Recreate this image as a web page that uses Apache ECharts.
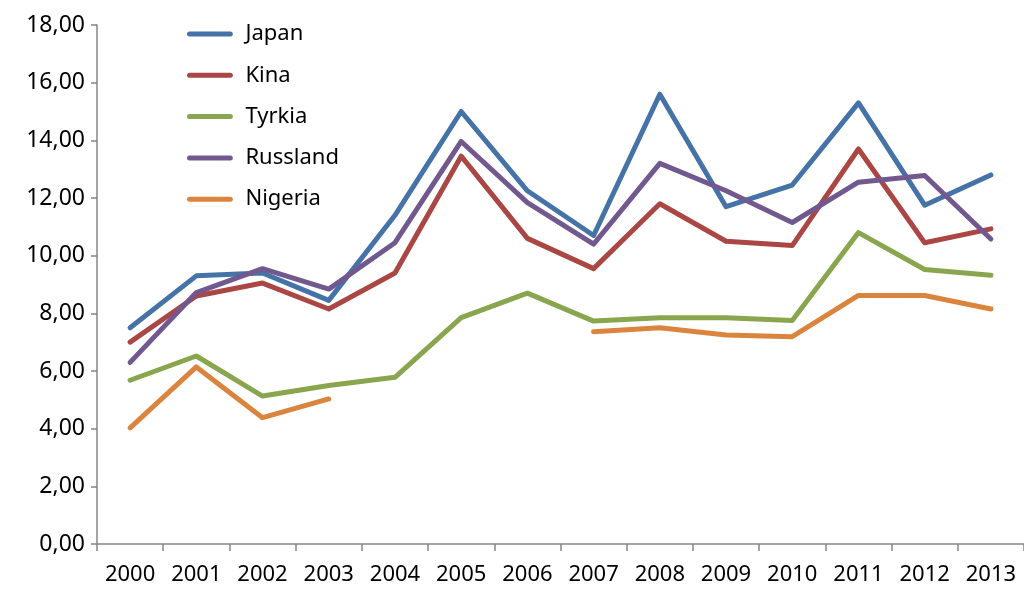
<!DOCTYPE html>
<html>
<head>
<meta charset="utf-8">
<script src="https://cdn.jsdelivr.net/npm/echarts@6/dist/echarts.min.js"></script>
<style>
html,body{margin:0;padding:0;background:#fff;}
#chart{width:1024px;height:589px;}
</style>
</head>
<body>
<div id="chart"></div>
<script>
const years = ['2000','2001','2002','2003','2004','2005','2006','2007','2008','2009','2010','2011','2012','2013'];
const japan    = [7.5, 9.3, 9.4, 8.45, 11.4, 15.0, 12.25, 10.7, 15.6, 11.7, 12.45, 15.3, 11.75, 12.8];
const kina     = [7.0, 8.6, 9.05, 8.15, 9.4, 13.45, 10.6, 9.55, 11.8, 10.5, 10.35, 13.7, 10.45, 10.93];
const tyrkia   = [5.68, 6.52, 5.13, 5.5, 5.78, 7.85, 8.7, 7.73, 7.85, 7.85, 7.75, 10.8, 9.52, 9.32];
const russland = [6.3, 8.72, 9.55, 8.84, 10.45, 13.96, 11.84, 10.4, 13.2, 12.25, 11.15, 12.55, 12.78, 10.58];
const nigeria  = [4.03, 6.14, 4.38, 5.03, null, null, null, 7.36, 7.5, 7.25, 7.19, 8.62, 8.62, 8.15];
const yTicks = {min: 0, max: 18, interval: 2};

const names = ['Japan','Kina','Tyrkia','Russland','Nigeria'];
const colors = ['#4572A7','#AA4643','#89A54E','#71588F','#DB843D'];
const datasets = [japan, kina, tyrkia, russland, nigeria];
const font = 'Noto Sans';
const legendIcon = 'path://M3,0 L52,0 A3,3 0 0 1 52,6 L3,6 A3,3 0 0 1 3,0 Z';

const chart = echarts.init(document.getElementById('chart'));
chart.setOption({
  animation: false,
  color: colors,
  grid: {left: 97, right: -4, top: 25, bottom: 45, containLabel: false},
  legend: {
    orient: 'vertical',
    left: 182, top: 18,
    itemWidth: 55, itemHeight: 5, itemGap: 19.3,
    textStyle: {fontFamily: font, fontSize: 22, color: '#000', padding: [0, 0, 0, 3]},
    data: names.map(n => ({name: n, icon: legendIcon}))
  },
  xAxis: {
    type: 'category',
    data: years,
    boundaryGap: true,
    axisLine: {lineStyle: {color: '#868686', width: 1.5}},
    axisTick: {show: true, length: 7, inside: false, lineStyle: {color: '#868686', width: 1.5}},
    axisLabel: {fontFamily: font, fontSize: 22, color: '#000', margin: 20, interval: 0},
    splitLine: {show: false}
  },
  yAxis: {
    type: 'value',
    min: yTicks.min, max: yTicks.max, interval: yTicks.interval,
    axisLine: {show: true, lineStyle: {color: '#868686', width: 1.5}},
    axisTick: {show: true, length: 6, lineStyle: {color: '#868686', width: 1.5}},
    axisLabel: {
      fontFamily: font, fontSize: 23, color: '#000', margin: 12,
      formatter: v => v.toFixed(2).replace('.', ',')
    },
    splitLine: {show: false}
  },
  series: names.map((n, i) => ({
    name: n,
    type: 'line',
    data: datasets[i],
    symbol: 'none',
    connectNulls: false,
    lineStyle: {width: 5, color: colors[i], cap: 'round', join: 'round'},
    itemStyle: {color: colors[i]}
  }))
});
</script>
</body>
</html>
